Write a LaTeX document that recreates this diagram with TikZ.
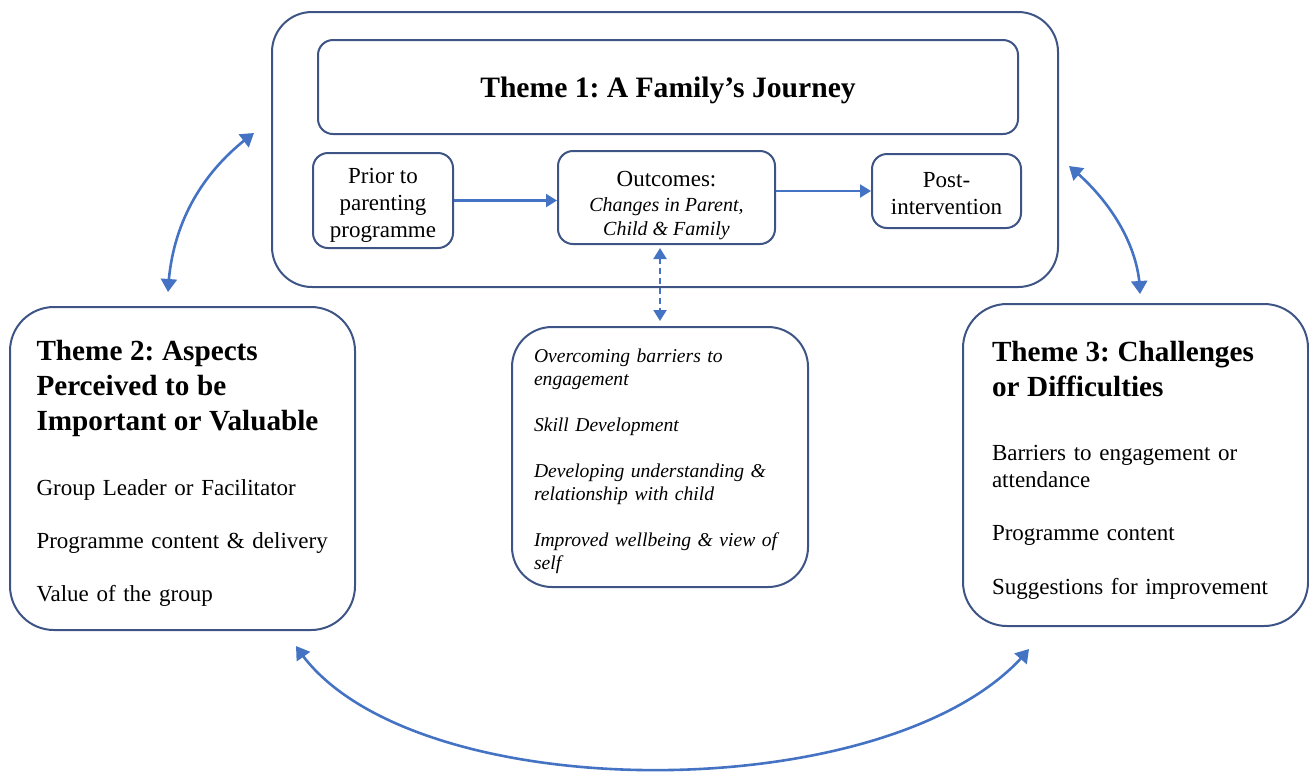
\documentclass[tikz,border=0pt]{standalone}
\usepackage{fontspec}
\setmainfont{Liberation Serif}
\usepackage{xcolor}
\usepackage{tikz}
\usetikzlibrary{positioning}
\usetikzlibrary{calc}
\usetikzlibrary{arrows, shapes, arrows.meta, bending}
\frenchspacing
\definecolor{officeblue}{rgb}{0.27, 0.45, 0.77}
\definecolor{slateblue}{rgb}{0.24, 0.33, 0.52}
\def\up(#1){\rule{0pt}{#1}}
\def\head(#1){{\fontsize{14.6}{17.5}\selectfont\bfseries\up(15pt)#1\par}\vspace{19pt}}
\def\ital(#1){{\fontsize{10}{12}\selectfont\itshape #1}}
\tikzstyle{box} = [rectangle, rounded corners=7.5pt, draw=slateblue, line width=1pt, align=center, inner sep=0pt, font=\fontsize{11.5}{13.5}\selectfont]
\tikzstyle{theme} = [rectangle, rounded corners=22pt, draw=slateblue, line width=1pt, align=left, inner sep=0pt, font=\fontsize{11.5}{13.25}\selectfont]
\tikzstyle{arrow} = [line width=1.1pt, draw=officeblue, -{Triangle[length=5.5pt,width=6.5pt]}]
\tikzstyle{twoway} = [line width=1.1pt, draw=officeblue, {Triangle[length=5.5pt,width=6.5pt]}-{Triangle[length=5.5pt,width=6.5pt]}]
\tikzstyle{link} = [line width=1.3pt, draw=officeblue, {Triangle[length=6.5pt,width=8pt]}-{Triangle[length=6.5pt,width=8pt]}]

\begin{document}
\begin{tikzpicture}[x=0.5pt,y=-0.5pt]
\useasboundingbox (0,0) rectangle (1309,773);
% theme 1 and its journey
\node (outer) at (665,149.5) [theme, rounded corners=20pt, minimum width=393pt, minimum height=137.5pt] {};
\node (title) at (668,87) [box, minimum width=350pt, minimum height=47pt, font=\fontsize{14.8}{17}\selectfont\bfseries] {\up(13.2pt)Theme 1: A Family’s Journey};
\node (prior) at (383,200.5) [box, minimum width=70pt, minimum height=47.5pt] {\up(12.8pt)Prior to\\parenting\\programme};
\node (outcomes) at (666.5,197.5) [box, minimum width=108.5pt, minimum height=46.5pt, font=\fontsize{11.5}{12.2}\selectfont] {\up(16pt)Outcomes:\\\ital(Changes in Parent,)\\\ital(Child \& Family)};
\node (post) at (946.5,191) [box, minimum width=74.5pt, minimum height=37pt] {\up(9.8pt)Post-\\intervention};
% outcome list
\node (changes) at (660,457) [theme, rounded corners=20pt, minimum width=148pt, minimum height=130pt, text width=126pt, font=\fontsize{9.8}{11.5}\selectfont\itshape] {\up(10.7pt)Overcoming barriers to\\engagement\\[11.5pt]Skill Development\\[11.5pt]Developing understanding \&\\relationship with child\\[11.5pt]Improved wellbeing \& view of\\self};
% themes 2 and 3
\node (themetwo) at (182.5,468.5) [theme, minimum width=172.5pt, minimum height=161.5pt, text width=146pt] {\head(Theme 2: Aspects\\Perceived to be\\Important or Valuable)Group Leader or Facilitator\\[13.25pt]Programme content \& delivery\\[13.25pt]Value of the group};
\node (themethree) at (1135.5,465) [theme, minimum width=172.5pt, minimum height=161pt, text width=143.5pt] {\head(Theme 3: Challenges\\or Difficulties)Barriers to engagement or\\attendance\\[13.5pt]Programme content\\[13.5pt]Suggestions for improvement};
% connectors
\draw[arrow] (prior.east) -- (prior.east -| outcomes.west);
\draw[arrow] (post.west -| outcomes.east) -- (post.west);
\draw[twoway, dash pattern=on 3pt off 2pt, shorten <=1.5pt, shorten >=2.5pt] (changes.north |- outcomes.south) -- (changes.north);
\draw[link] ($(themetwo.north)+(-14.5,-14)$) .. controls +(3,-73) and +(-47,34) .. ($(outer.west)+(-17,-16.5)$);
\draw[link] ($(outer.east)+(10,16.5)$) .. controls +(43,35) and +(0,-45) .. ($(themethree.north)+(4.5,-9)$);
\draw[link] ($(themetwo.south east)+(-60,15)$) .. controls +(105,165) and +(-130,162) .. ($(themethree.south west)+(67,22)$);
\end{tikzpicture}
\end{document}
